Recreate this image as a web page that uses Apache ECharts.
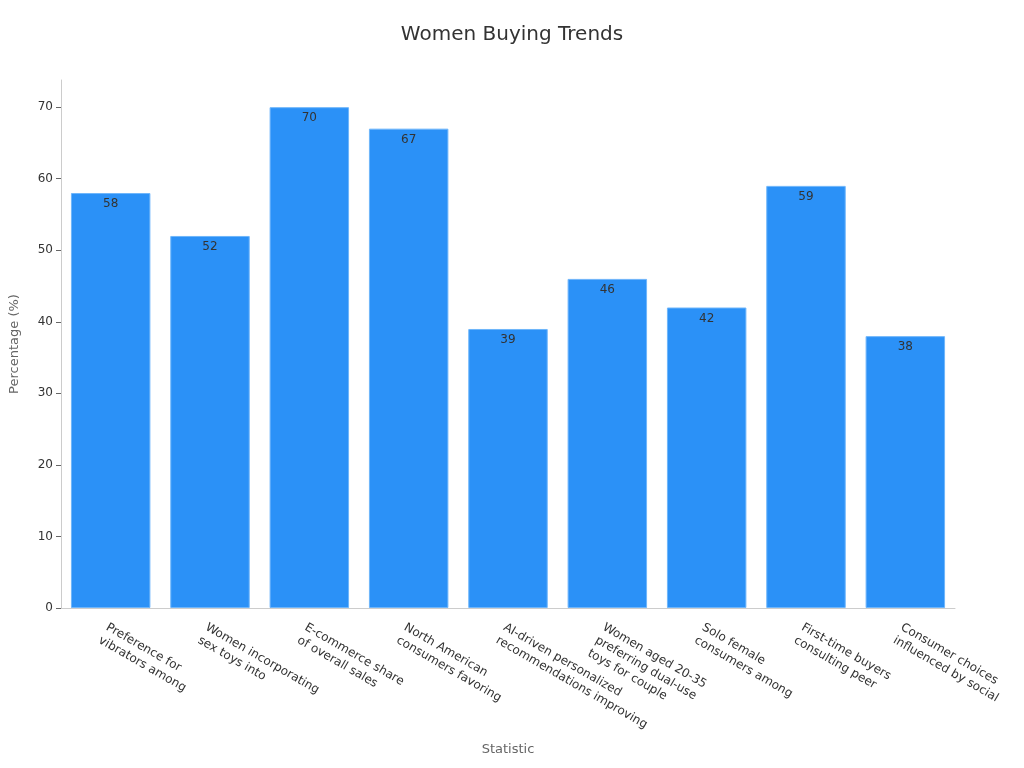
<!DOCTYPE html>
<html>
<head>
<meta charset="utf-8">
<title>Women Buying Trends</title>
<script src="https://cdn.jsdelivr.net/npm/echarts@6/dist/echarts.min.js"></script>
<style>
  html, body { margin: 0; padding: 0; background: #fff; }
  #chart { width: 1024px; height: 768px; }
</style>
</head>
<body>
<div id="chart"></div>
<script>
// 类目（已按图中换行）
var categories = [
	"Preference for\nvibrators among",
	"Women incorporating\nsex toys into",
	"E-commerce share\nof overall sales",
	"North American\nconsumers favoring",
	"AI-driven personalized\nrecommendations improving",
	"Women aged 20-35\npreferring dual-use\ntoys for couple",
	"Solo female\nconsumers among",
	"First-time buyers\nconsulting peer",
	"Consumer choices\ninfluenced by social"
];
var values = [58, 52, 70, 67, 39, 46, 42, 59, 38];
var yTicks = [0, 10, 20, 30, 40, 50, 60, 70];

var axisGray = "#cccccc";
var textColor = "#333";

var myChart = echarts.init(document.getElementById("chart"));

var option = {
	animation: false,
	title: {
		text: "Women Buying Trends",
		left: "center",
		top: 20,
		textStyle: {
			fontFamily: "DejaVu Sans",
			fontSize: 20,
			fontWeight: "normal",
			color: textColor
		}
	},
	grid: {
		top: 80,
		left: 60,
		right: 69,
		bottom: 160
	},
	xAxis: {
		type: "category",
		data: categories,
		name: "Statistic",
		nameLocation: "middle",
		nameGap: 135,
		nameTextStyle: {
			fontFamily: "DejaVu Sans",
			fontSize: 13,
			color: "#666"
		},
		axisLine: { lineStyle: { color: axisGray } },
		axisTick: { alignWithLabel: true, length: 5, lineStyle: { color: "#666" } },
		axisLabel: {
			interval: 0,
			rotate: -30,
			margin: 12,
			fontFamily: "DejaVu Sans",
			fontSize: 12,
			lineHeight: 15,
			color: textColor,
			align: "left",
			verticalAlign: "top"
		}
	},
	yAxis: {
		type: "value",
		min: 0,
		max: 73.8,
		interval: 10,
		name: "Percentage (%)",
		nameLocation: "middle",
		nameGap: 40,
		nameTextStyle: {
			fontFamily: "DejaVu Sans",
			fontSize: 13,
			color: "#666"
		},
		axisLine: { show: true, lineStyle: { color: axisGray } },
		axisTick: { show: true, length: 5, customValues: yTicks, lineStyle: { color: "#666" } },
		splitLine: { show: false },
		axisLabel: {
			customValues: yTicks,
			fontFamily: "DejaVu Sans",
			fontSize: 12,
			color: textColor
		}
	},
	series: [{
		type: "bar",
		data: values,
		barCategoryGap: "20%",
		itemStyle: {
			color: "#2b91f7",
			borderColor: "#6fb6fb",
			borderWidth: 1
		},
		label: {
			show: true,
			position: "insideTop",
			distance: 5,
			fontFamily: "DejaVu Sans",
			fontSize: 12,
			color: "#333"
		}
	}]
};

myChart.setOption(option);
window.onresize = myChart.resize;
</script>
</body>
</html>
